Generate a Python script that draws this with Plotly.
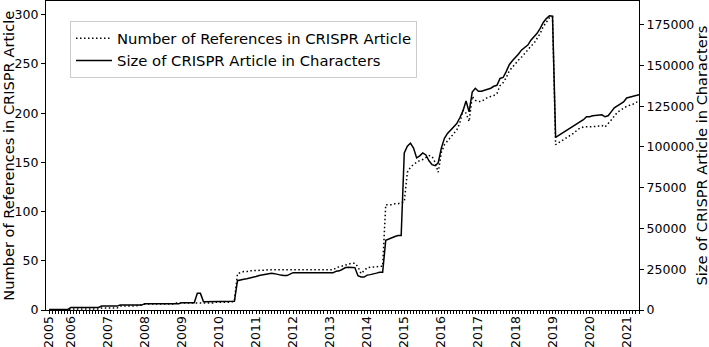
import pandas as pd
import plotly.graph_objects as go

# Monthly categories (2005-06 .. 2021-05)
months = [d.strftime("%Y-%m") for d in pd.date_range("2005-06-01", "2021-05-01", freq="MS")]

year_labels = ["2005", "2006", "2007", "2008", "2009", "2010", "2011", "2012", "2013",
               "2014", "2015", "2016", "2017", "2018", "2019", "2020", "2021"]
year_ticks = ["2005-06", "2006-01", "2007-01", "2008-01", "2009-01", "2010-01", "2011-01",
              "2012-01", "2013-01", "2014-01", "2015-01", "2016-01", "2017-01", "2018-01",
              "2019-01", "2020-01", "2021-01"]

references = [
    0, 0, 0, 0, 0, 0, 0,
    1, 1, 1, 1, 1, 1, 1, 1, 1, 1, 2, 2,
    2, 2, 2, 2, 4, 4, 4, 4, 4, 4, 5, 5,
    6, 6, 6, 6, 6, 6, 6, 6, 6, 6, 7, 7,
    7, 7, 7, 7, 7, 7, 7, 7, 7, 7, 7, 8,
    8, 8, 8, 8, 8, 9, 37, 38, 39, 39, 40, 40,
    40, 40, 40.5, 40.5, 41, 41, 40.5, 40.5, 40.5, 40.5, 40.5, 40.5,
    41, 41, 41, 41, 41, 41, 41, 41, 41, 41, 41, 41,
    41, 41, 43, 44, 45, 46, 47, 47.5, 47.5, 44, 37, 40,
    43, 43.5, 43.5, 44, 44.5, 44.5, 107, 107, 107, 108, 108, 109,
    110, 140, 145, 148, 150, 152, 153, 155, 157, 156, 150, 140,
    160, 168, 172, 176, 180, 183, 190, 203, 200, 191.5, 217, 213,
    212, 212, 214, 216, 217, 218, 220, 228, 231, 236, 243, 247,
    250, 254, 257, 261, 264, 268, 271, 276, 281, 288, 293, 297,
    298, 168, 170, 172, 174, 176, 178, 180, 183, 185, 186, 186,
    186, 186, 186.5, 187, 187.5, 186, 189, 193, 197, 201, 203, 205,
    207, 208, 209, 211, 212,
]

size_chars = [
    300, 300, 300, 300, 300, 300, 300,
    1500, 1500, 1500, 1500, 1500, 1500, 1500, 1500, 1500, 1500, 2400, 2400,
    2400, 2400, 2400, 2400, 3000, 3000, 3000, 3000, 3000, 3000, 3000, 3000,
    3900, 3900, 3900, 3900, 3900, 3900, 3900, 3900, 3900, 3900, 3900, 3900,
    4500, 4500, 4500, 4500, 4500, 10200, 10200, 5100, 5100, 5100, 5100, 5100,
    5100, 5100, 5100, 5100, 5100, 5400, 18000, 18600, 18900, 19200, 19500, 19900,
    20500, 21100, 21400, 21700, 22000, 22600, 22300, 21700, 21400, 21100, 21100, 22000,
    22900, 22900, 22900, 22900, 22900, 22900, 22900, 22900, 22900, 22900, 22900, 22900,
    22900, 22900, 23800, 24000, 25000, 26000, 26200, 26200, 26000, 21000, 20300, 20200,
    21400, 21700, 22000, 22600, 23200, 23200, 42700, 43600, 44500, 45100, 45700, 45700,
    96300, 100500, 102300, 99300, 93300, 94500, 96300, 95100, 91500, 89100, 88500, 90300,
    99300, 105300, 108300, 110100, 112500, 114300, 117900, 122100, 128200, 121500, 133600, 136000,
    134200, 134200, 134800, 135400, 136000, 137200, 137800, 142000, 142600, 146200, 150400, 152800,
    154600, 157000, 159500, 161300, 162500, 165500, 167300, 169700, 172700, 176300, 178700, 180500,
    180200, 105900, 107100, 108300, 109500, 110700, 111900, 113100, 114300, 115500, 116700, 118500,
    118500, 119100, 119400, 119700, 119700, 118500, 119100, 121500, 124000, 125200, 126400, 127600,
    130000, 130600, 131200, 131800, 132100,
]

FONT = "DejaVu Sans"

ticktext = [year_labels[year_ticks.index(m)] if m in year_ticks else "" for m in months]

fig = go.Figure()
fig.add_trace(go.Scatter(x=months, y=references, mode="lines",
                         name="Number of References in CRISPR Article",
                         line=dict(color="black", width=1.5, dash="1.5px,2.5px")))
fig.add_trace(go.Scatter(x=months, y=size_chars, mode="lines", yaxis="y2",
                         name="Size of CRISPR Article in Characters",
                         line=dict(color="black", width=1.5)))

fig.update_layout(
    width=709, height=347,
    margin=dict(l=46, r=70, t=1, b=37, autoexpand=False),
    paper_bgcolor="white", plot_bgcolor="white",
    font=dict(family=FONT, color="black", size=13),
    showlegend=True,
    legend=dict(x=0.0405, y=0.935, xanchor="left", yanchor="top",
                bgcolor="rgba(255,255,255,0.8)", bordercolor="#cccccc", borderwidth=1,
                font=dict(size=14.8, family=FONT), tracegroupgap=0, itemwidth=36),
    xaxis=dict(type="category", categoryorder="array", categoryarray=months,
               range=[-1, len(months) - 1], automargin=False,
               tickmode="array", tickvals=months, ticktext=ticktext, tickangle=-90,
               ticks="outside", ticklen=3, tickwidth=1, tickcolor="black",
               ticklabelstandoff=-3,
               showline=True, linecolor="black", linewidth=1.2, mirror=True,
               showgrid=False, zeroline=False, tickfont=dict(size=12.5)),
    yaxis=dict(range=[0, 314], dtick=50, tick0=0, automargin=False,
               ticks="outside", ticklen=4, tickcolor="black",
               showline=True, linecolor="black", linewidth=1.2,
               showgrid=False, zeroline=False, tickfont=dict(size=12.5)),
    yaxis2=dict(overlaying="y", side="right", range=[0, 189500], dtick=25000, tick0=0,
                tickformat="d", automargin=False,
                ticks="outside", ticklen=4, tickcolor="black",
                showline=True, linecolor="black", linewidth=1.2,
                showgrid=False, zeroline=False, tickfont=dict(size=12.5)),
    annotations=[
        dict(text="Number of References in CRISPR Article", xref="paper", yref="paper",
             x=-0.0637, y=0.5, xanchor="center", yanchor="middle", textangle=-90,
             showarrow=False, font=dict(size=14.6, family=FONT)),
        dict(text="Size of CRISPR Article in Characters", xref="paper", yref="paper",
             x=1.1046, y=0.5, xanchor="center", yanchor="middle", textangle=-90,
             showarrow=False, font=dict(size=14.6, family=FONT)),
    ],
)

fig.write_html("out.html", config={"displayModeBar": False},
               post_script="document.body.style.margin='0';document.body.style.overflow='hidden';")
